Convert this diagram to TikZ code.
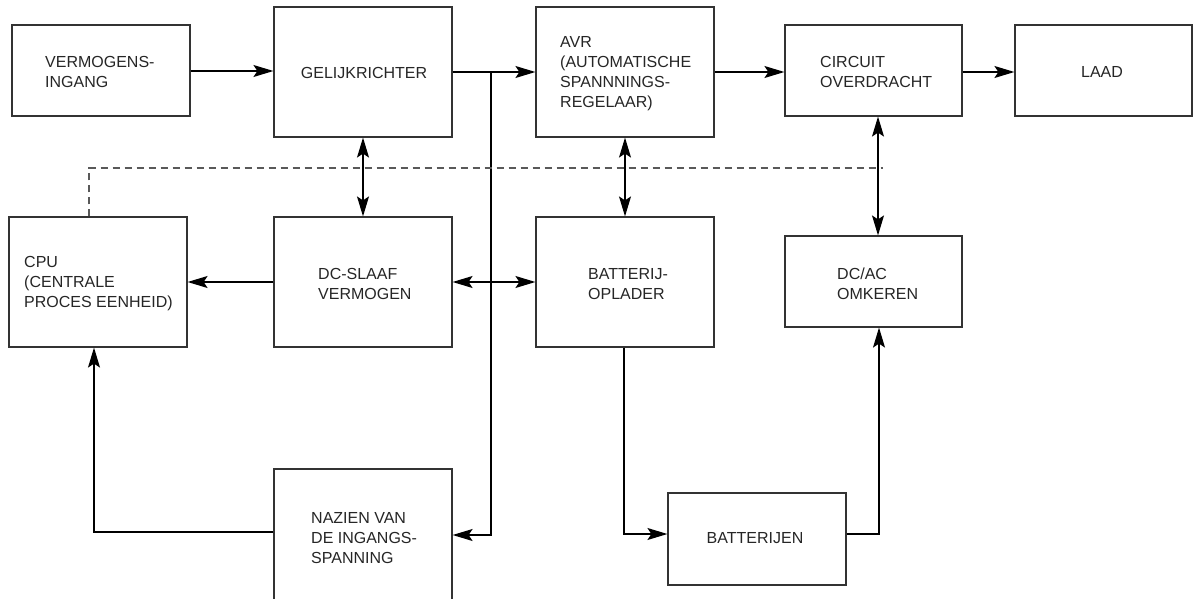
\documentclass[tikz,border=0pt]{standalone}
\usepackage{fontspec}
\setmainfont{Liberation Sans}
\usetikzlibrary{arrows.meta,calc}
\begin{document}
\begin{tikzpicture}[x=1pt,y=-1pt,
  box/.style={draw=black!80, line width=1.2pt, inner sep=0pt},
  lbl/.style={anchor=west, align=left, inner sep=0pt, text=black!85,
              font=\fontsize{16}{20}\selectfont},
  clbl/.style={anchor=center, align=center, inner sep=0pt, text=black!85,
              font=\fontsize{16}{20}\selectfont},
  arr/.style={draw=black, line width=1.3pt, -{Stealth[length=20pt,width=12pt,inset=4pt]}},
  biarr/.style={draw=black, line width=1.3pt, {Stealth[length=20pt,width=12pt,inset=4pt]}-{Stealth[length=20pt,width=12pt,inset=4pt]}},
  dashline/.style={draw=black!65, line width=1.2pt, dash pattern=on 7pt off 5pt}
]
\useasboundingbox (0,0) rectangle (1193,599);
\fill[white] (0,0) rectangle (1193,599);

% boxes
\node[box, minimum width=178pt, minimum height=91pt]  (vin)  at (101,70.5) {};
\node[box, minimum width=178pt, minimum height=130pt] (gel)  at (363,72) {};
\node[box, minimum width=178pt, minimum height=130pt] (avr)  at (625,72) {};
\node[box, minimum width=177pt, minimum height=91pt]  (circ) at (873.5,70.5) {};
\node[box, minimum width=177pt, minimum height=91pt]  (laad) at (1103.5,70.5) {};
\node[box, minimum width=178pt, minimum height=130pt] (cpu)  at (98,282) {};
\node[box, minimum width=178pt, minimum height=130pt] (dcs)  at (363,282) {};
\node[box, minimum width=178pt, minimum height=130pt] (bat)  at (625,282) {};
\node[box, minimum width=177pt, minimum height=91pt]  (dcac) at (873.5,281.5) {};
\node[box, minimum width=178pt, minimum height=150pt] (naz)  at (363,544) {};
\node[box, minimum width=178pt, minimum height=92pt]  (batj) at (757,539) {};

% labels
\node[lbl] (tvin)  at (45,72)  {VERMOGENS-\\INGANG};
\node[clbl] (tgel) at (364,73) {GELIJKRICHTER};
\node[lbl] (tavr)  at (560,74) {AVR\\(AUTOMATISCHE\\SPANNNINGS-\\REGELAAR)};
\node[lbl] (tcirc) at (820,72) {CIRCUIT\\OVERDRACHT};
\node[clbl] (tlaad) at (1102,72) {LAAD};
\node[lbl] (tcpu)  at (24,284) {CPU\\(CENTRALE\\PROCES EENHEID)};
\node[lbl] (tdcs)  at (318,284) {DC-SLAAF\\VERMOGEN};
\node[lbl] (tbat)  at (588,284) {BATTERIJ-\\OPLADER};
\node[lbl] (tdcac) at (837,284) {DC/AC\\OMKEREN};
\node[lbl] (tnaz)  at (311,538) {NAZIEN VAN\\DE INGANGS-\\SPANNING};
\node[clbl] (tbatj) at (755,538) {BATTERIJEN};

% top row arrows
\coordinate (a0) at (0,71);
\draw[arr] (a0 -| vin.east) -- (a0 -| gel.west);
\draw[arr] (gel.east) -- (avr.west);
\draw[arr] (avr.east) -- (avr.east -| circ.west);
\coordinate (a1) at (0,72);
\draw[arr] (a1 -| circ.east) -- (a1 -| laad.west);

% rectifier output branch down to input check
\coordinate (j1) at (491,72);
\coordinate (j2) at (491,535);
\draw[arr] (j1) -- (j2) -- (j2 -| naz.east);

% vertical bidirectional links
\draw[biarr] (gel.south) -- (dcs.north);
\draw[biarr] (avr.south) -- (bat.north);
\draw[biarr] ([xshift=4.5pt]circ.south) -- ([xshift=4.5pt]dcac.north);

% middle row
\draw[arr] (dcs.west) -- (cpu.east);
\draw[biarr] (dcs.east) -- (bat.west);

% input check to CPU
\coordinate (c1) at (94,532);
\draw[arr] (c1 -| naz.west) -- (c1) -- (c1 |- cpu.south);

% charger -> batteries -> inverter
\coordinate (b1) at (624,534);
\draw[arr] (b1 |- bat.south) -- (b1) -- (b1 -| batj.west);
\coordinate (b2) at (879,534);
\draw[arr] (b2 -| batj.east) -- (b2) -- (b2 |- dcac.south);

% dashed control line
\coordinate (d1) at (89,168);
\coordinate (d2) at (883,168);
\draw[dashline] (d1 |- cpu.north) -- (d1) -- (d2);
\end{tikzpicture}
\end{document}
